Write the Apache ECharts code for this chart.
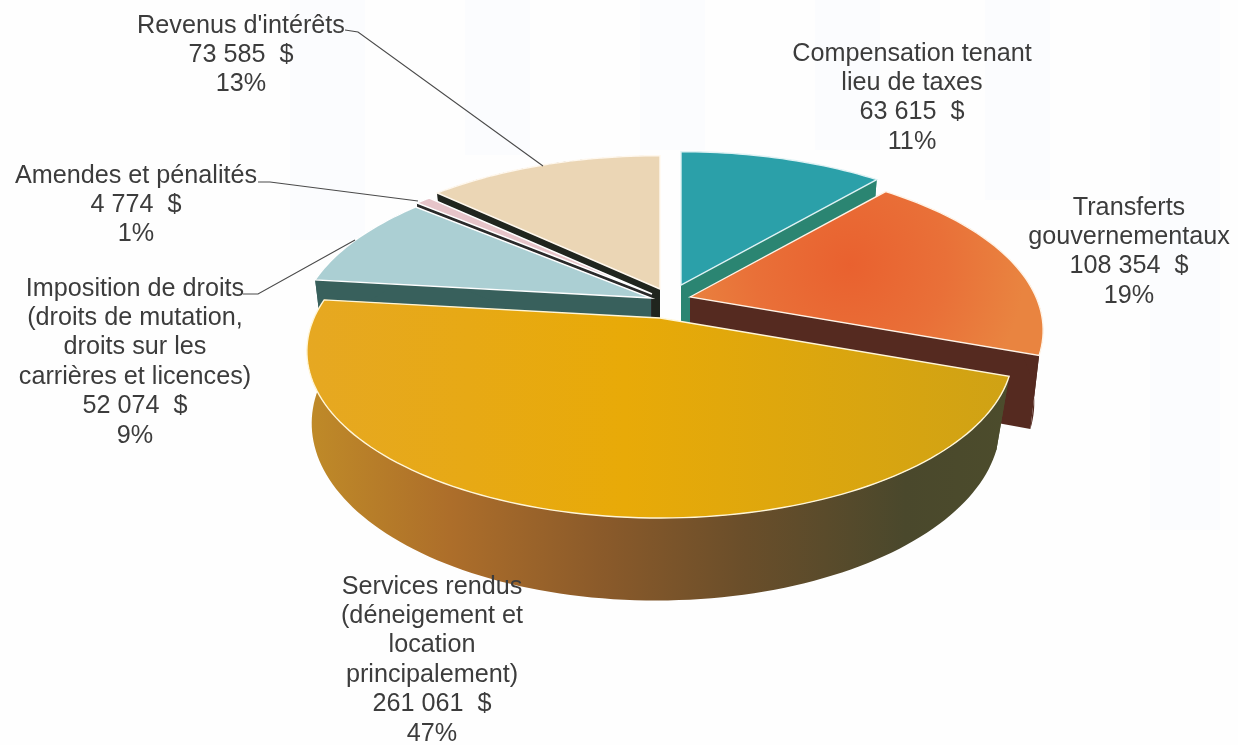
<!DOCTYPE html>
<html><head><meta charset="utf-8">
<style>html,body{margin:0;padding:0;background:#fff}#c{width:1238px;height:745px}</style>
<script src="https://cdn.jsdelivr.net/npm/echarts@6/dist/echarts.min.js"></script>
</head><body><div id="c"></div>
<script>
// ---- data ----
const categories = ["Compensation tenant\nlieu de taxes","Transferts\ngouvernementaux","Services rendus\n(déneigement et\nlocation\nprincipalement)","Imposition de droits\n(droits de mutation,\ndroits sur les\ncarrières et licences)","Amendes et pénalités","Revenus d'intérêts"];
const values = [63615,108354,261061,52074,4774,73585];
const percents = [11,19,47,9,1,13];
const amountTexts = ["63 615  $","108 354  $","261 061  $","52 074  $","4 774  $","73 585  $"];
// ---- styling / layout ----
const topColors = ["#2ba0a9","#e97d3e","#e5a70f","#abcfd3","#e6c4c9","#ebd6b5"];
const wallColors = ["#2b8572","#552a20","#8a6a2a","#38605c","#2a2a2a","#20251e"];
const edgeColors = ["#dff2f4","#fff3e6","#fff6d8","#ffffff","#ffffff","#fff8ee"];
const apexes = [[681,285],[690,297],[660,318],[651,298],[652,294],[660,289]];
const bottomShift = [0,0,-4,0,0,0];
const paintOrder = [5,0,4,3,1,2];
const labelBoxes = [[912,39],[1129,193],[432,572],[135,274],[136,161],[241,11]];
const leaders = [null,null,null,[[243,294],[258,294],[355,240]],[[258,182],[270,182],[418,201]],[[345,30],[358,32],[543,166]]];
const ghostBands = [[290,365,240],[465,530,155],[640,705,150],[815,880,150],[985,1050,200],[1150,1220,530]];
const A=346,B=160,K=0.2,C=70,SHRINK=0.975;
const total = values.reduce((a,b)=>a+b,0);
const startAngles = []; { let c=0; values.forEach(v=>{startAngles.push(c); c+=v/total*360;}); }
function proj(deg,o,bottom,dx){
  const a=deg*Math.PI/180,u=Math.sin(a),v=Math.cos(a),w=1+K*v,s=bottom?SHRINK:1;
  return [o[0]+s*A*u/w+(bottom?dx:0), o[1]-s*B*v/w+(bottom?C/w:0)];
}
function arc(a0,a1,o,b,dx){const n=Math.max(2,Math.ceil((a1-a0)/1.5)),p=[];for(let i=0;i<=n;i++)p.push(proj(a0+(a1-a0)*i/n,o,b,dx));return p;}
function fillFor(i){
  if(i===1) return new echarts.graphic.RadialGradient(850,265,175,[{offset:0,color:"#e9612f"},{offset:0.55,color:"#e97038"},{offset:1,color:"#e98440"}],true);
  if(i===2) return new echarts.graphic.LinearGradient(307,0,1015,0,[{offset:0,color:"#e6a822"},{offset:0.45,color:"#e8aa08"},{offset:1,color:"#cfa215"}],true);
  return topColors[i];
}
function wallFor(i){
  if(i===2) return new echarts.graphic.LinearGradient(310,0,1010,0,[{offset:0,color:"#bf8a28"},{offset:0.2,color:"#ad6e2a"},{offset:0.42,color:"#8a5a2a"},{offset:0.62,color:"#6a4e2a"},{offset:0.85,color:"#4a482c"},{offset:1,color:"#4c4c2c"}],true);
  return wallColors[i];
}
function renderSlice(params,api){
  const i=api.value(0), a0=startAngles[i], a1=a0+api.value(1)/total*360, o=apexes[i], dx=bottomShift[i];
  const wall=wallFor(i), c=[], ob=[o[0]+dx,o[1]+C];
  const poly=(pts,fill,stroke,lw)=>c.push({type:'polygon',shape:{points:pts},style:{fill,stroke:stroke||null,lineWidth:lw||0}});
  poly([o,proj(a0,o,0,dx),proj(a0,o,1,dx),ob],wall);
  poly([o,proj(a1,o,0,dx),proj(a1,o,1,dx),ob],wall);
  poly(arc(a0,a1,o,0,dx).concat(arc(a0,a1,o,1,dx).reverse()),wall);
  poly([o].concat(arc(a0,a1,o,0,dx)),fillFor(i),edgeColors[i],1.4);
  return {type:'group',children:c};
}
function renderLabel(params,api){
  const i=api.value(0), box=labelBoxes[i], c=[];
  c.push({type:'text',style:{text:categories[i]+"\n"+amountTexts[i]+"\n"+api.value(1)+"%",x:box[0],y:box[1],textAlign:'center',textVerticalAlign:'top',font:'25.2px "Liberation Sans"',lineHeight:29.4,fill:'#3c3c3c'}});
  if(leaders[i]) c.push({type:'polyline',shape:{points:leaders[i]},style:{stroke:'#4a4a4a',lineWidth:1.1,fill:null}});
  return {type:'group',children:c};
}
const chart=echarts.init(document.getElementById('c'),null,{renderer:'canvas'});
chart.setOption({
  animation:false,backgroundColor:'#fefefe',
  graphic:ghostBands.map(b=>({type:'rect',z:-1,silent:true,shape:{x:b[0],y:0,width:b[1]-b[0],height:b[2]},style:{fill:'#fbfcfe'}})),
  series:[
    {type:'custom',coordinateSystem:'none',z:2,renderItem:renderSlice,data:paintOrder.map(i=>[i,values[i]])},
    {type:'custom',coordinateSystem:'none',z:3,renderItem:renderLabel,data:categories.map((_,i)=>[i,percents[i]])}
  ]
});
</script></body></html>
